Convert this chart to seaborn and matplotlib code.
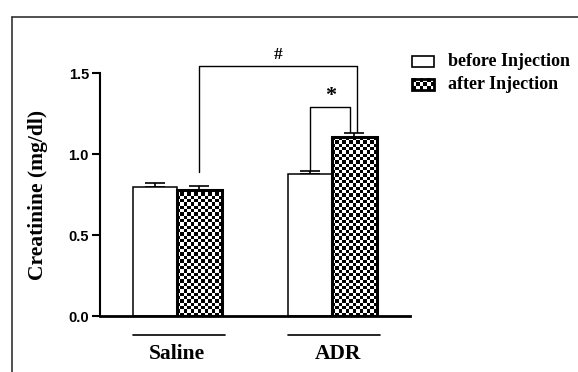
import numpy as np
import pandas as pd
import matplotlib
matplotlib.use("Agg")
import matplotlib.pyplot as plt
import matplotlib.transforms as mtransforms
from matplotlib.patches import Rectangle
from matplotlib.lines import Line2D
import seaborn as sns

groups = ["Saline", "ADR"]
phases = ["before Injection", "after Injection"]
before_mean = [0.80, 0.875]
after_mean = [0.78, 1.105]
before_sem = [0.025, 0.022]
after_sem = [0.025, 0.024]

df = pd.DataFrame({
    "group": groups * 2,
    "phase": [phases[0]] * 2 + [phases[1]] * 2,
    "value": before_mean + after_mean,
})
sems = {phases[0]: before_sem, phases[1]: after_sem}

sns.set_style("white")
plt.rcParams.update({"text.color": "black", "axes.labelcolor": "black",
                     "xtick.color": "black", "ytick.color": "black",
                     "axes.edgecolor": "black"})
serif = "Liberation Serif"
sans = "Liberation Sans"

fig = plt.figure(figsize=(5.78, 3.72), dpi=100)
ax = fig.add_axes([100 / 578, 1 - 316 / 372, 310 / 578, (316 - 73.3) / 372])

sns.barplot(data=df, x="group", y="value", hue="phase", order=groups,
            hue_order=phases, width=0.574, errorbar=None, legend=False,
            palette=["white", "white"], ax=ax)

XMIN, XMAX = -0.497, 1.503
ax.set_xlim(XMIN, XMAX)
ax.set_ylim(0, 1.5)


def checker(x0, x1, y0, y1, cell=3.3, z=1.5):
    p0 = ax.transData.transform((x0, y0))
    p1 = ax.transData.transform((x1, y1))
    nx = max(1, int(round(abs(p1[0] - p0[0]) / cell)))
    ny = max(1, int(round(abs(p1[1] - p0[1]) / cell)))
    arr = (np.add.outer(np.arange(ny), np.arange(nx)) % 2).astype(float)
    ax.imshow(arr, cmap="gray", vmin=0, vmax=1, extent=(x0, x1, y0, y1),
              aspect="auto", interpolation="nearest", zorder=z, clip_on=False)


for k, ph in enumerate(phases):
    cont = ax.containers[k]
    xs, ys = [], []
    for bar in cont:
        bx, bw, bh = bar.get_x(), bar.get_width(), bar.get_height()
        xs.append(bx + bw / 2)
        ys.append(bh)
        bar.set_edgecolor("black")
        bar.set_zorder(2)
        if k == 0:
            bar.set_linewidth(1.1)
        else:
            bar.set_facecolor("none")
            bar.set_linewidth(2.2)
            checker(bx, bx + bw, 0, bh)
    ax.errorbar(xs, ys, yerr=[np.zeros(len(ys)), sems[ph]], fmt="none",
                ecolor="black", elinewidth=1.2, capsize=7, capthick=1.2, zorder=1)

ax.set_xlim(XMIN, XMAX)
ax.set_ylim(0, 1.5)

# significance brackets
lw = 1.0
c_saline_after = 0.1435
c_adr_before = 1 - 0.1435
c_adr_after = 1.1435
ax.plot([c_saline_after, c_saline_after, c_adr_after + 0.02, c_adr_after + 0.02],
        [0.89, 1.545, 1.545, 1.14], color="black", lw=lw, clip_on=False)
ax.text(0.652, 1.565, "#", ha="center", va="bottom", fontsize=12.5,
        fontweight="bold", family=serif)
ax.plot([c_adr_before, c_adr_before, c_adr_after - 0.025, c_adr_after - 0.025],
        [0.90, 1.294, 1.294, 1.14], color="black", lw=lw, clip_on=False)
ax.text(0.994, 1.30, "*", ha="center", va="bottom", fontsize=16,
        fontweight="bold", family=serif)

# group underlines
for i in range(len(groups)):
    ax.plot([i - 0.285, i + 0.31], [-0.117, -0.117], color="black", lw=1.2,
            clip_on=False)

# axes styling
sns.despine(ax=ax)
ax.spines["left"].set_linewidth(1.5)
ax.spines["bottom"].set_linewidth(2.0)
ax.spines["left"].set_bounds(0, 1.5)
ax.set_yticks([0, 0.5, 1.0, 1.5])
ax.set_yticklabels(["0.0", "0.5", "1.0", "1.5"], fontsize=10.5,
                   fontweight="bold", family=sans)
ax.tick_params(axis="y", direction="out", length=6, width=1.5, pad=2,
               left=True)
ax.tick_params(axis="x", length=0, pad=20)
ax.set_xticks(range(len(groups)))
ax.set_xticklabels(groups, fontsize=15.5, fontweight="bold", family=serif)
adr_label = ax.get_xticklabels()[1]
adr_label.set_transform(adr_label.get_transform() +
                        mtransforms.ScaledTranslation(6 / 100, 0, fig.dpi_scale_trans))
ax.set_xlabel("")
ax.set_ylabel("Creatinine (mg/dl)", fontsize=15.5, fontweight="bold",
              family=serif)
ax.yaxis.set_label_coords(-0.168, 0.5)

# legend (manual)
lx0, lx1 = 1.516, 1.658
ax.add_patch(Rectangle((lx0, 1.539), lx1 - lx0, 0.068, facecolor="white",
                       edgecolor="black", lw=1.2, clip_on=False, zorder=3))
ax.add_patch(Rectangle((lx0, 1.397), lx1 - lx0, 0.068, facecolor="none",
                       edgecolor="black", lw=2.0, clip_on=False, zorder=3))
checker(lx0, lx1, 1.397, 1.465, cell=3.6, z=2.5)
ax.text(1.748, 1.573, phases[0], ha="left", va="center", fontsize=13,
        fontweight="bold", family=serif)
ax.text(1.748, 1.431, phases[1], ha="left", va="center", fontsize=13,
        fontweight="bold", family=serif)

ax.set_xlim(XMIN, XMAX)
ax.set_ylim(0, 1.5)

# outer frame
fig.add_artist(Line2D([12.3 / 578, 1], [1 - 16.7 / 372] * 2,
                      transform=fig.transFigure, color="#333333", lw=1.2))
fig.add_artist(Line2D([12.3 / 578] * 2, [0, 1 - 16.7 / 372],
                      transform=fig.transFigure, color="#333333", lw=1.2))

fig.savefig("out.png", dpi=100)
